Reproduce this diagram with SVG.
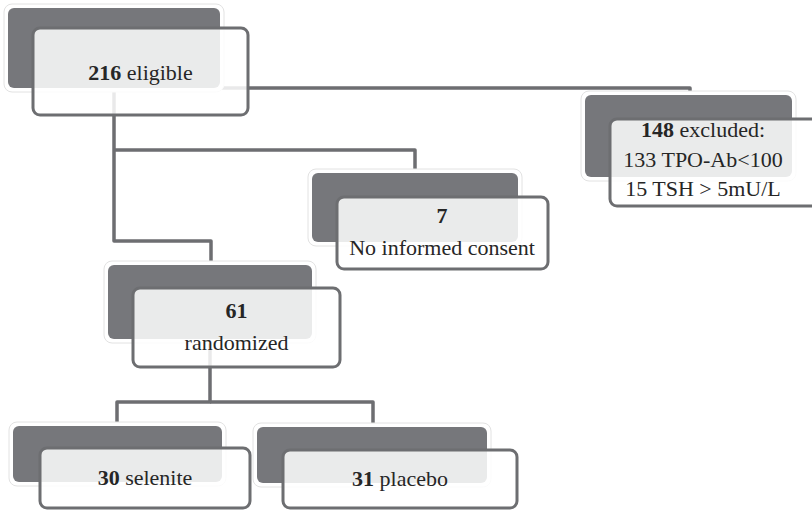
<svg xmlns="http://www.w3.org/2000/svg" width="812" height="510" viewBox="0 0 812 510">
<style>
.halo{fill:#ffffff;stroke:#e2e2e2;stroke-width:1}
.back{fill:#76777b}
.front{fill:#ffffff;fill-opacity:0.85;stroke:#6d6e71;stroke-width:3}
.conn{fill:none;stroke:#6d6e71;stroke-width:3.5;stroke-linejoin:round}
.t{font-family:'Liberation Serif','DejaVu Serif',serif;font-size:22px;fill:#262626;text-anchor:middle}
.b{font-weight:bold}
</style>
<rect width="812" height="510" fill="#ffffff"/>
<g id="connectors">
<path class="conn" d="M114 88 V241 H211 V265"/>
<path class="conn" d="M114 150 H415 V173"/>
<path class="conn" d="M220 88 H690 V95"/>
<path class="conn" d="M210 339 V402 H117 V426"/>
<path class="conn" d="M210 402 H373 V427"/>
</g>
<g id="node-eligible">
<rect class="halo" x="4" y="4" width="220" height="88" rx="8"/>
<rect class="back" x="8" y="8" width="212" height="80" rx="6"/>
<rect class="front" x="33" y="28" width="215" height="87" rx="7"/>
<text class="t" font-family="Liberation Serif, serif" x="140.5" y="80"><tspan class="b">216</tspan> eligible</text>
</g>
<g id="node-excluded">
<rect class="halo" x="581" y="91" width="215" height="90" rx="8"/>
<rect class="back" x="585" y="95" width="207" height="82" rx="6"/>
<rect class="front" x="610" y="119" width="210" height="87" rx="7"/>
<text class="t" font-family="Liberation Serif, serif" x="703" y="137"><tspan class="b">148</tspan> excluded:</text>
<text class="t" font-family="Liberation Serif, serif" x="703" y="167">133 TPO-Ab&lt;100</text>
<text class="t" font-family="Liberation Serif, serif" x="703" y="196">15 TSH &gt; 5mU/L</text>
</g>
<g id="node-consent">
<rect class="halo" x="308" y="169" width="214" height="77" rx="8"/>
<rect class="back" x="312" y="173" width="206" height="69" rx="6"/>
<rect class="front" x="337" y="197" width="211" height="72" rx="7"/>
<text class="t b" font-family="Liberation Serif, serif" x="442" y="223">7</text>
<text class="t" font-family="Liberation Serif, serif" x="442" y="255">No informed consent</text>
</g>
<g id="node-randomized">
<rect class="halo" x="104" y="261" width="212" height="82" rx="8"/>
<rect class="back" x="108" y="265" width="204" height="74" rx="6"/>
<rect class="front" x="133" y="288" width="207" height="79" rx="7"/>
<text class="t b" font-family="Liberation Serif, serif" x="236.5" y="318">61</text>
<text class="t" font-family="Liberation Serif, serif" x="236.5" y="350">randomized</text>
</g>
<g id="node-selenite">
<rect class="halo" x="9" y="422" width="217" height="64" rx="8"/>
<rect class="back" x="13" y="426" width="209" height="56" rx="6"/>
<rect class="front" x="40" y="448" width="210" height="60" rx="7"/>
<text class="t" font-family="Liberation Serif, serif" x="145" y="485"><tspan class="b">30</tspan> selenite</text>
</g>
<g id="node-placebo">
<rect class="halo" x="253" y="423" width="238" height="64" rx="8"/>
<rect class="back" x="257" y="427" width="230" height="56" rx="6"/>
<rect class="front" x="283" y="450" width="234" height="58" rx="7"/>
<text class="t" font-family="Liberation Serif, serif" x="400" y="486"><tspan class="b">31</tspan> placebo</text>
</g>
</svg>
